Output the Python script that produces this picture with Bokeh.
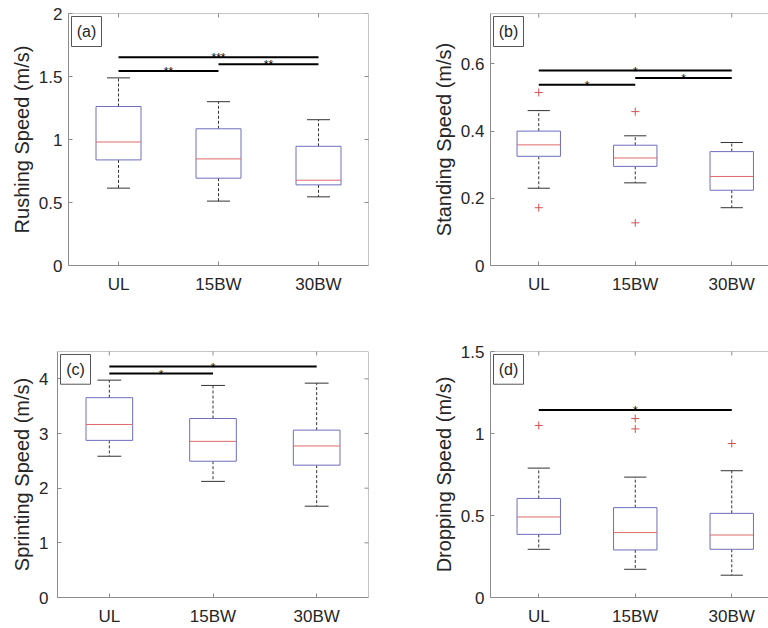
import math
from bokeh.plotting import figure
from bokeh.models import FixedTicker, Range1d, Label, Span, BoxAnnotation
from bokeh.layouts import column, row
from bokeh.embed import file_html
from bokeh.resources import INLINE
from bokeh.core.properties import value

# ---------------- data ----------------
categories = ["UL", "15BW", "30BW"]
cat_pos = [1, 2, 3]

# (a) Rushing speed
rush_lo = [0.614, 0.511, 0.545]
rush_q1 = [0.838, 0.693, 0.640]
rush_med = [0.980, 0.846, 0.677]
rush_q3 = [1.262, 1.085, 0.946]
rush_hi = [1.489, 1.300, 1.157]
rush_out_x = []
rush_out_y = []
rush_sig_from = [1, 2, 1]
rush_sig_to = [3, 3, 2]
rush_sig_y = [1.652, 1.597, 1.543]
rush_sig_txt = ["***", "**", "**"]
rush_ticks = [0, 0.5, 1, 1.5, 2]
rush_tick_labels = ["0", "0.5", "1", "1.5", "2"]

# (b) Standing speed
stand_lo = [0.230, 0.246, 0.172]
stand_q1 = [0.325, 0.295, 0.224]
stand_med = [0.359, 0.320, 0.265]
stand_q3 = [0.400, 0.358, 0.339]
stand_hi = [0.461, 0.386, 0.366]
stand_out_x = [1, 1, 2, 2]
stand_out_y = [0.515, 0.172, 0.458, 0.127]
stand_sig_from = [1, 2, 1]
stand_sig_to = [3, 3, 2]
stand_sig_y = [0.580, 0.558, 0.538]
stand_sig_txt = ["*", "*", "*"]
stand_ticks = [0, 0.2, 0.4, 0.6]
stand_tick_labels = ["0", "0.2", "0.4", "0.6"]

# (c) Sprinting speed
sprint_lo = [2.584, 2.124, 1.670]
sprint_q1 = [2.874, 2.493, 2.421]
sprint_med = [3.165, 2.856, 2.772]
sprint_q3 = [3.655, 3.274, 3.062]
sprint_hi = [3.976, 3.879, 3.921]
sprint_out_x = []
sprint_out_y = []
sprint_sig_from = [1, 1]
sprint_sig_to = [3, 2]
sprint_sig_y = [4.224, 4.097]
sprint_sig_txt = ["*", "*"]
sprint_ticks = [0, 1, 2, 3, 4]
sprint_tick_labels = ["0", "1", "2", "3", "4"]

# (d) Dropping speed
drop_lo = [0.294, 0.172, 0.136]
drop_q1 = [0.385, 0.290, 0.294]
drop_med = [0.491, 0.396, 0.381]
drop_q3 = [0.604, 0.548, 0.513]
drop_hi = [0.789, 0.734, 0.773]
drop_out_x = [1, 2, 2, 3]
drop_out_y = [1.049, 1.091, 1.028, 0.939]
drop_sig_from = [1]
drop_sig_to = [3]
drop_sig_y = [1.144]
drop_sig_txt = ["*"]
drop_ticks = [0, 0.5, 1, 1.5]
drop_tick_labels = ["0", "0.5", "1", "1.5"]

# ---------------- style ----------------
FONT = "Liberation Sans"
FRAME = "#8c8c8c"
TEXT = "#262626"
BOX = "#6e6ebe"
MED = "#e06a6a"
OUT = "#d85050"
WHISK = "#333333"
BOX_W = 0.45
CAP_W = 0.23
FIG_W, FIG_H = 384, 314


def panel(letter, ylabel, yend, ticks, tick_labels, xend, lo, q1, med, q3, hi,
          out_x, out_y, sig_a, sig_b, sig_y, sig_txt,
          bl, br, bt, bb, right_border, tick_standoff):
    p = figure(width=FIG_W, height=FIG_H, x_range=Range1d(0.5, xend), y_range=Range1d(0, yend),
               output_backend="svg", toolbar_location=None,
               min_border_left=bl, min_border_right=br, min_border_top=bt, min_border_bottom=bb)
    p.outline_line_color = None
    p.grid.visible = False
    p.background_fill_color = "white"
    p.border_fill_color = "white"

    fw = FIG_W - bl - br
    fh = FIG_H - bt - bb
    pux = fw / (xend - 0.5)
    puy = fh / yend

    xa = p.xaxis[0]
    xa.ticker = FixedTicker(ticks=cat_pos)
    xa.major_label_overrides = {c: t for c, t in zip(cat_pos, categories)}
    ya = p.yaxis[0]
    ya.ticker = FixedTicker(ticks=ticks)
    ya.major_label_overrides = {float(t): s for t, s in zip(ticks, tick_labels)}
    ya.axis_label = ylabel
    for ax in (xa, ya):
        ax.axis_line_color = FRAME
        ax.major_tick_line_color = FRAME
        ax.major_tick_in = 4
        ax.major_tick_out = 0
        ax.minor_tick_line_color = None
        ax.major_label_text_font = FONT
        ax.major_label_text_font_size = "17px"
        ax.major_label_text_color = TEXT
        ax.axis_label_text_font = FONT
        ax.axis_label_text_font_size = "20px"
        ax.axis_label_text_font_style = "normal"
        ax.axis_label_text_color = TEXT
    xa.major_label_standoff = 9
    ya.major_label_standoff = tick_standoff
    ya.axis_label_standoff = 3

    # top border and inward ticks
    p.add_layout(Span(location=yend, dimension="width", line_color=FRAME, line_width=1))
    p.scatter(x=cat_pos, y=[yend] * len(cat_pos), marker="dash", angle=math.pi / 2,
              size=8, line_color=FRAME, line_width=1)
    if right_border:
        p.add_layout(Span(location=xend, dimension="height", line_color=FRAME, line_width=1))
        p.scatter(x=[xend] * len(ticks), y=ticks, marker="dash", size=8,
                  line_color=FRAME, line_width=1)

    # boxes
    left = [x - BOX_W / 2 for x in cat_pos]
    right = [x + BOX_W / 2 for x in cat_pos]
    cl = [x - CAP_W / 2 for x in cat_pos]
    cr = [x + CAP_W / 2 for x in cat_pos]
    p.segment(x0=cat_pos, y0=q3, x1=cat_pos, y1=hi, line_color=WHISK, line_dash="3 2", line_width=1)
    p.segment(x0=cat_pos, y0=q1, x1=cat_pos, y1=lo, line_color=WHISK, line_dash="3 2", line_width=1)
    p.segment(x0=cl, y0=hi, x1=cr, y1=hi, line_color=WHISK, line_width=1)
    p.segment(x0=cl, y0=lo, x1=cr, y1=lo, line_color=WHISK, line_width=1)
    p.quad(left=left, right=right, bottom=q1, top=q3, fill_color="white", line_color=BOX, line_width=1)
    p.segment(x0=left, y0=med, x1=right, y1=med, line_color=MED, line_width=1)
    if out_x:
        p.scatter(x=out_x, y=out_y, marker="cross", size=8, line_color=OUT, line_width=1)

    # significance bars
    mid = [(a + b) / 2 for a, b in zip(sig_a, sig_b)]
    p.segment(x0=sig_a, y0=sig_y, x1=sig_b, y1=sig_y, line_color="black", line_width=2)
    p.text(x=mid, y=sig_y, text=sig_txt, text_font=value(FONT), text_font_size="12px",
           text_align="center", text_baseline="alphabetic", y_offset=1, text_color="black")

    # panel letter box (3 px inside the top-left corner, 30 px square)
    bx0 = 0.5 + 3 / pux
    bx1 = 0.5 + 33 / pux
    by1 = yend - 3 / puy
    by0 = yend - 33 / puy
    p.add_layout(BoxAnnotation(left=bx0, right=bx1, bottom=by0, top=by1,
                               fill_color="white", fill_alpha=1.0,
                               line_color="#555555", line_width=1, line_alpha=1.0))
    p.add_layout(Label(x=(bx0 + bx1) / 2, y=(by0 + by1) / 2, text=letter,
                       text_align="center", text_baseline="middle",
                       text_font=FONT, text_font_size="16px", text_color=TEXT))
    return p


XEND_R = 0.5 + 278 / 96.5

pa = panel("(a)", "Rushing Speed (m/s)", 2.0, rush_ticks, rush_tick_labels, 3.5,
           rush_lo, rush_q1, rush_med, rush_q3, rush_hi, rush_out_x, rush_out_y,
           rush_sig_from, rush_sig_to, rush_sig_y, rush_sig_txt, 68, 16, 13, 49, True, 6)
pb = panel("(b)", "Standing Speed (m/s)", 0.75, stand_ticks, stand_tick_labels, XEND_R,
           stand_lo, stand_q1, stand_med, stand_q3, stand_hi, stand_out_x, stand_out_y,
           stand_sig_from, stand_sig_to, stand_sig_y, stand_sig_txt, 106, 0, 13, 49, False, 6)
pc = panel("(c)", "Sprinting Speed (m/s)", 4.5, sprint_ticks, sprint_tick_labels, 3.5,
           sprint_lo, sprint_q1, sprint_med, sprint_q3, sprint_hi, sprint_out_x, sprint_out_y,
           sprint_sig_from, sprint_sig_to, sprint_sig_y, sprint_sig_txt, 57, 16, 36, 30, True, 9)
pd_ = panel("(d)", "Dropping Speed (m/s)", 1.5, drop_ticks, drop_tick_labels, XEND_R,
            drop_lo, drop_q1, drop_med, drop_q3, drop_hi, drop_out_x, drop_out_y,
            drop_sig_from, drop_sig_to, drop_sig_y, drop_sig_txt, 106, 0, 37, 29, False, 6)

layout = column(row(pa, pb), row(pc, pd_))

open("out.html", "w").write(file_html(layout, INLINE))
